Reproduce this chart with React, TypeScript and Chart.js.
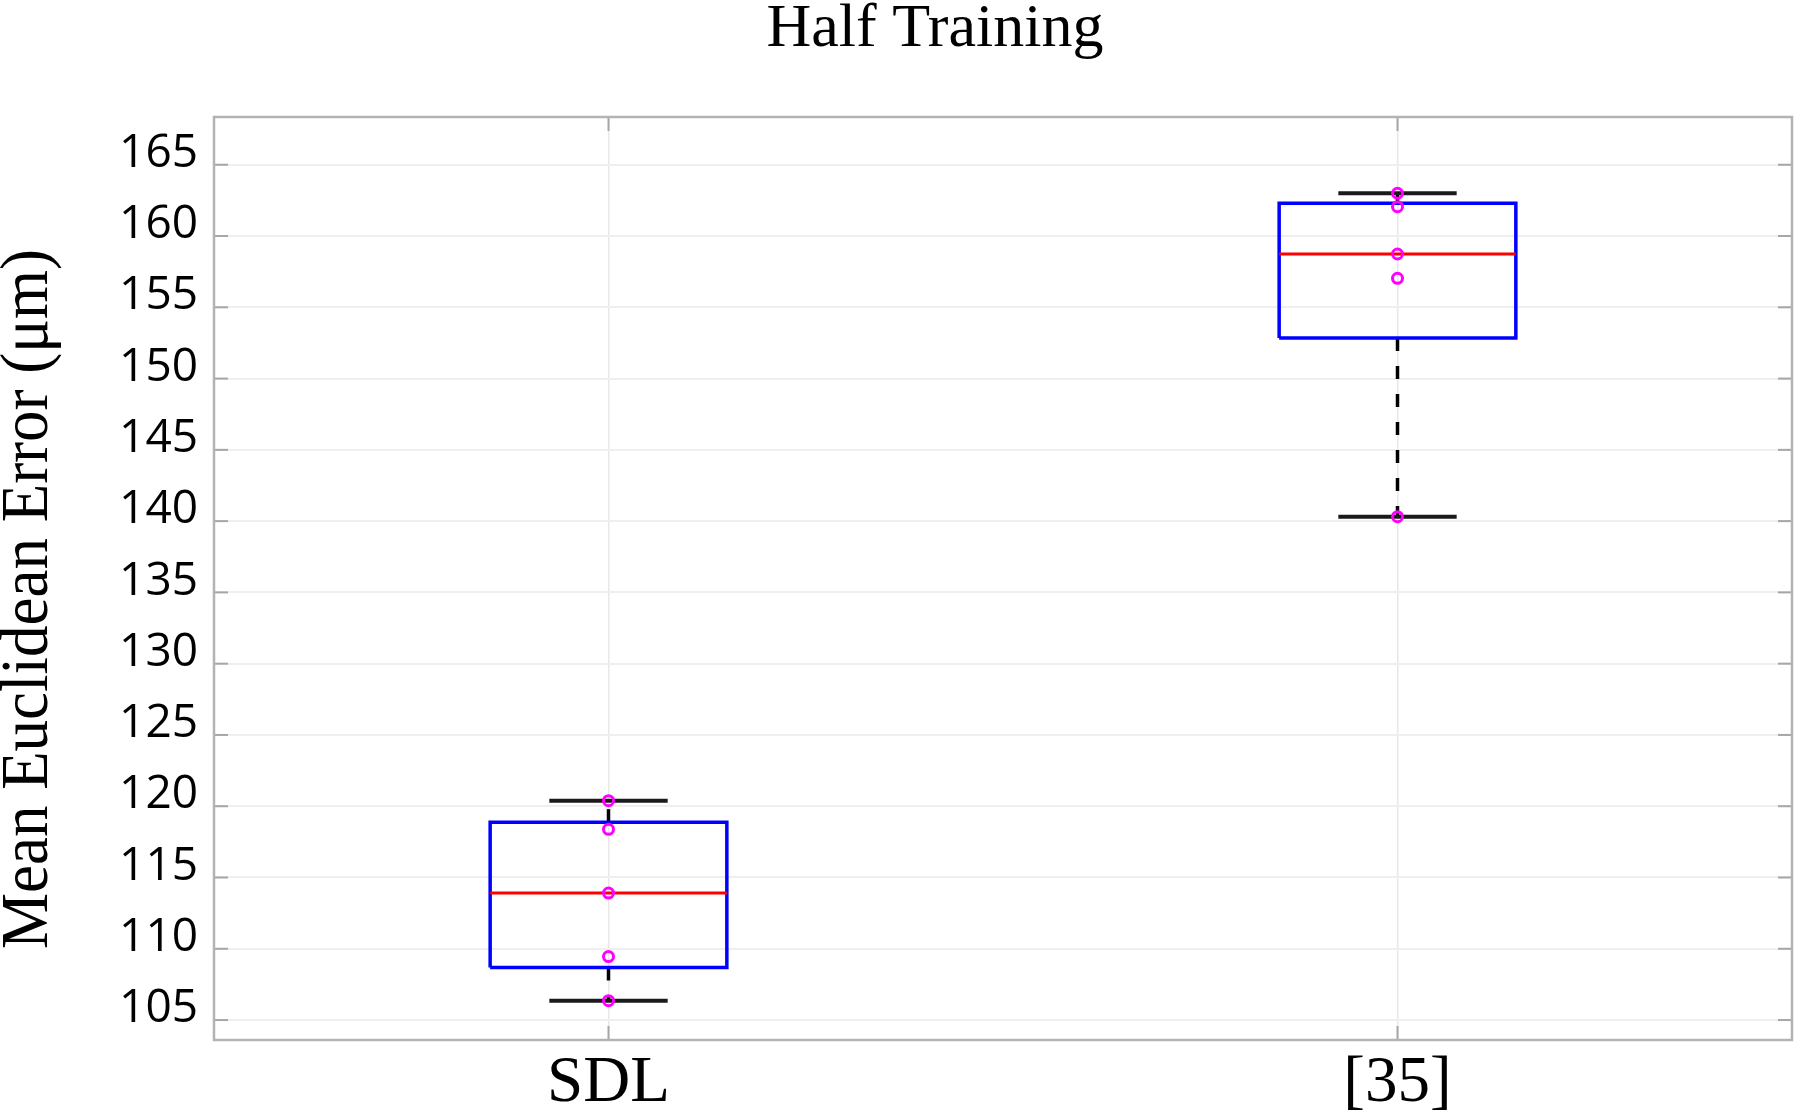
import React, { useEffect, useRef } from 'react';
import { Chart, registerables } from 'chart.js';

Chart.register(...registerables);

// ---------- data ----------
const categories = ['SDL', '[35]'];
const sdlErrors = [106.36, 109.45, 113.91, 118.38, 120.39];
const ref35Errors = [140.31, 157.03, 158.74, 162.06, 163.0];
const seriesValues = [sdlErrors, ref35Errors];
const yTickValues = [105, 110, 115, 120, 125, 130, 135, 140, 145, 150, 155, 160, 165];
const chartTitle = 'Half Training';
const yAxisTitle = 'Mean Euclidean Error (\u03bcm)';

// ---------- styling constants ----------
const BOX_HALF = 0.15;
const CAP_HALF = 0.075;
const SERIF = '"Liberation Serif", "Times New Roman", serif';
const SANS = '"Open Sans", "Noto Sans", sans-serif';

// MATLAB-style percentile (used by boxplot)
function quantile(values: number[], p: number): number {
  const s = [...values].sort((a, b) => a - b);
  const n = s.length;
  const pos = p * n - 0.5;
  if (pos <= 0) return s[0];
  if (pos >= n - 1) return s[n - 1];
  const lo = Math.floor(pos);
  const f = pos - lo;
  return s[lo] + f * (s[lo + 1] - s[lo]);
}

function lineDs(points: { x: number; y: number }[], color: string, width: number, dash: number[] = [], order = 2) {
  return {
    data: points,
    showLine: true,
    borderColor: color,
    backgroundColor: color,
    borderWidth: width,
    borderDash: dash,
    borderCapStyle: 'butt' as const,
    borderJoinStyle: 'miter' as const,
    pointRadius: 0,
    pointHoverRadius: 0,
    fill: false,
    tension: 0,
    order,
  };
}

function buildDatasets() {
  const ds: any[] = [];
  seriesValues.forEach((vals, i) => {
    const xc = i + 1;
    const mn = Math.min(...vals);
    const mx = Math.max(...vals);
    const q1 = quantile(vals, 0.25);
    const md = quantile(vals, 0.5);
    const q3 = quantile(vals, 0.75);
    // whiskers (dashed)
    ds.push(lineDs([{ x: xc, y: q3 }, { x: xc, y: mx }], '#000000', 3.5, [13, 15], 4));
    ds.push(lineDs([{ x: xc, y: q1 }, { x: xc, y: mn }], '#000000', 3.5, [13, 15], 4));
    // caps
    ds.push(lineDs([{ x: xc - CAP_HALF, y: mx }, { x: xc + CAP_HALF, y: mx }], '#1a1a1a', 4, [], 3));
    ds.push(lineDs([{ x: xc - CAP_HALF, y: mn }, { x: xc + CAP_HALF, y: mn }], '#1a1a1a', 4, [], 3));
    // box
    ds.push(
      lineDs(
        [
          { x: xc - BOX_HALF, y: q1 },
          { x: xc + BOX_HALF, y: q1 },
          { x: xc + BOX_HALF, y: q3 },
          { x: xc - BOX_HALF, y: q3 },
          { x: xc - BOX_HALF, y: q1 },
        ],
        '#0000ff',
        3.5,
        [],
        2
      )
    );
    // median
    ds.push(lineDs([{ x: xc - BOX_HALF, y: md }, { x: xc + BOX_HALF, y: md }], '#ff0000', 3, [], 1));
    // data points
    ds.push({
      data: vals.map((v) => ({ x: xc, y: v })),
      showLine: false,
      pointStyle: 'circle',
      pointRadius: 5,
      pointHoverRadius: 5,
      pointBorderWidth: 3,
      pointBorderColor: '#ff00ff',
      pointBackgroundColor: 'rgba(0,0,0,0)',
      borderColor: '#ff00ff',
      backgroundColor: 'rgba(0,0,0,0)',
      order: 0,
    });
  });
  return ds;
}

const framePlugin = {
  id: 'frameTicks',
  beforeDatasetsDraw(chart: any) {
    const { ctx, chartArea, scales } = chart;
    const { left, right, top, bottom } = chartArea;
    const seg = (x1: number, y1: number, x2: number, y2: number) => {
      ctx.beginPath();
      ctx.moveTo(x1, y1);
      ctx.lineTo(x2, y2);
      ctx.stroke();
    };
    ctx.save();
    ctx.strokeStyle = '#a6a6a6';
    ctx.lineWidth = 2;
    yTickValues.forEach((v) => {
      const py = scales.y.getPixelForValue(v);
      seg(left, py, left + 14, py);
      seg(right - 14, py, right, py);
    });
    categories.forEach((_, i) => {
      const px = scales.x.getPixelForValue(i + 1);
      seg(px, bottom, px, bottom - 14);
      seg(px, top, px, top + 14);
    });
    ctx.strokeStyle = '#b3b3b3';
    ctx.lineWidth = 2.5;
    ctx.strokeRect(left, top, right - left, bottom - top);
    ctx.restore();
  },
};

const titlesPlugin = {
  id: 'titles',
  afterDraw(chart: any) {
    const { ctx } = chart;
    ctx.save();
    ctx.fillStyle = '#000000';
    ctx.font = `62px ${SERIF}`;
    ctx.textAlign = 'center';
    ctx.textBaseline = 'alphabetic';
    ctx.fillText(chartTitle, 935, 46);
    // y-axis title: taller glyphs, fitted to the reference length
    ctx.translate(47, 599);
    ctx.rotate(-Math.PI / 2);
    ctx.font = `67px ${SERIF}`;
    const w = ctx.measureText(yAxisTitle).width;
    const sx = w > 0 ? 700 / w : 1;
    ctx.scale(sx, 1);
    ctx.fillText(yAxisTitle, 0, 0);
    ctx.restore();
  },
};

export default function App() {
  const ref = useRef<HTMLCanvasElement>(null);

  useEffect(() => {
    document.body.style.margin = '0';
    const canvas = ref.current;
    if (!canvas) return;
    const chart = new Chart(canvas, {
      type: 'scatter',
      data: { datasets: buildDatasets() },
      options: {
        animation: false,
        responsive: false,
        devicePixelRatio: 1,
        events: [],
        layout: { padding: { left: 0, right: 2, top: 117, bottom: 0 } },
        plugins: {
          legend: { display: false },
          tooltip: { enabled: false },
          title: { display: false },
        },
        scales: {
          x: {
            type: 'linear',
            min: 0.5,
            max: 2.5,
            afterBuildTicks: (s: any) => {
              s.ticks = categories.map((_, i) => ({ value: i + 1 }));
            },
            afterFit: (s: any) => {
              s.height = 78;
            },
            ticks: {
              autoSkip: false,
              maxRotation: 0,
              padding: 11,
              color: '#000000',
              font: { family: SERIF, size: 65, lineHeight: 1 },
              callback: (_v: any, idx: number) => categories[idx] ?? '',
            },
            grid: { color: '#e8e8e8', lineWidth: 1.5, drawTicks: false },
            border: { display: false },
          },
          y: {
            type: 'linear',
            min: 103.6,
            max: 168.35,
            afterBuildTicks: (s: any) => {
              s.ticks = yTickValues.map((v) => ({ value: v }));
            },
            afterFit: (s: any) => {
              s.width = 214;
            },
            ticks: {
              padding: 16,
              labelOffset: -11,
              color: '#000000',
              font: { family: SANS, size: 46, lineHeight: 1 },
              callback: (v: any) => String(v),
            },
            grid: { color: '#efefef', lineWidth: 2, drawTicks: false },
            border: { display: false },
          },
        },
      } as any,
      plugins: [framePlugin, titlesPlugin],
    });
    return () => chart.destroy();
  }, []);

  return (
    <div style={{ width: 1800, height: 1118, background: '#ffffff' }}>
      <canvas ref={ref} width={1800} height={1118} style={{ display: 'block' }} />
    </div>
  );
}
